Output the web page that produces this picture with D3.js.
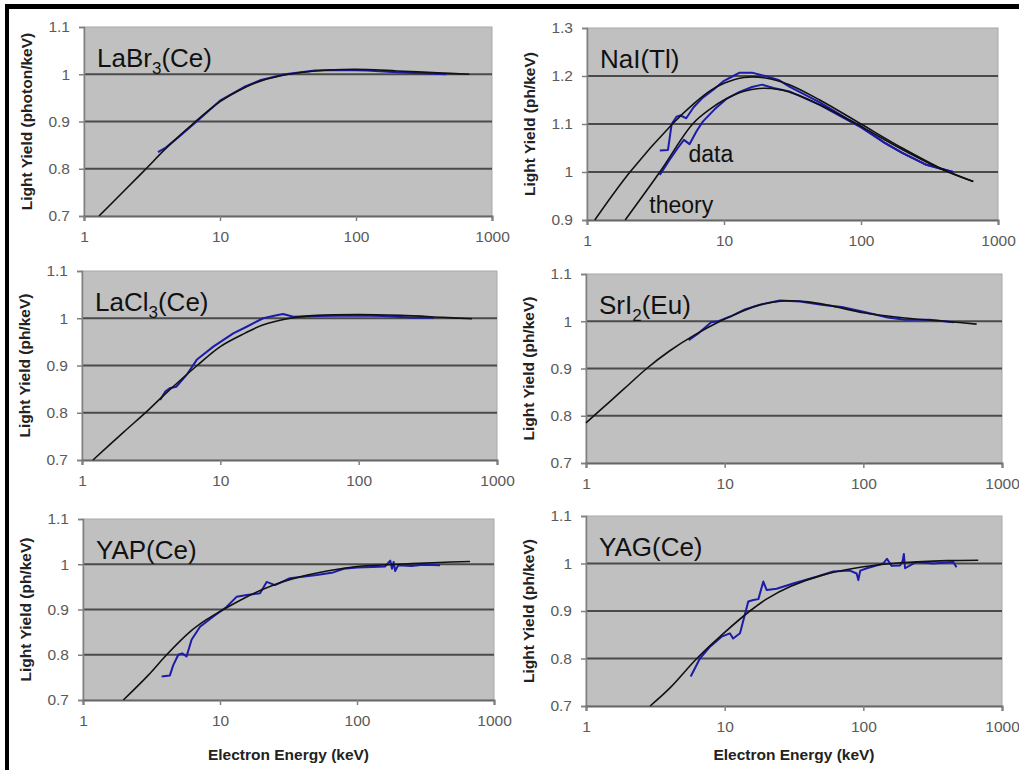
<!DOCTYPE html>
<html>
<head>
<meta charset="utf-8">
<script src="https://cdn.jsdelivr.net/npm/d3@7"></script>
<style>
  body { margin: 0; background: #fff; }
  svg { display: block; font-family: Arial, "Liberation Sans", sans-serif; }
</style>
</head>
<body>
<svg id="chart" width="1019" height="770"></svg>
<script>
// Electron energy (keV) vs relative light yield, measured (data) and model (theory)
const energyTicks = [1, 10, 100, 1000];
const yieldTicksLow = [0.7, 0.8, 0.9, 1, 1.1];
const yieldTicksNaI = [0.9, 1, 1.1, 1.2, 1.3];

const laBr3Theory = [[1.29,0.70],[2,0.755],[2.86,0.80],[4,0.843],[6.6,0.90],[10,0.942],[15,0.971],[20,0.986],[32,1.0],[50,1.007],[80,1.01],[120,1.01],[200,1.007],[400,1.003],[680,1.0]];
const laBr3Data = [[3.5,0.835],[4,0.845],[5,0.868],[7,0.904],[10,0.944],[15,0.973],[20,0.988],[30,1.0],[50,1.008],[80,1.009],[120,1.008],[200,1.004],[300,1.002],[460,1.0]];

const naiTheoryA = [[1.14,0.9],[2.06,1.0],[4.2,1.1],[6,1.142],[8,1.17],[10,1.185],[14,1.197],[20,1.196],[30,1.182],[50,1.15],[100,1.1],[200,1.05],[400,1.005],[660,0.98]];
const naiTheoryB = [[1.9,0.9],[3.4,1.0],[5.9,1.1],[8,1.132],[10,1.15],[14,1.168],[18,1.174],[25,1.172],[35,1.16],[50,1.14],[100,1.095],[200,1.047],[400,1.004],[660,0.98]];
const naiDataA = [[3.4,1.045],[3.9,1.046],[4.15,1.10],[4.5,1.115],[4.8,1.118],[5.3,1.112],[6.0,1.135],[7,1.155],[8.4,1.172],[10,1.19],[11.7,1.2],[13,1.207],[16,1.207],[20,1.2],[25,1.192],[30,1.178],[50,1.145],[80,1.11],[100,1.095],[150,1.06],[200,1.04],[300,1.015],[470,1.0]];
const naiDataB = [[3.4,0.994],[4.0,1.025],[4.6,1.05],[5.1,1.067],[5.6,1.058],[6.3,1.085],[7,1.105],[8.5,1.13],[10.5,1.153],[13,1.167],[16,1.177],[19,1.182],[23,1.175],[30,1.168],[50,1.14],[80,1.108],[100,1.093],[150,1.06],[200,1.04],[300,1.015],[470,1.0]];

const laCl3Theory = [[1.2,0.7],[2,0.759],[3,0.805],[4,0.84],[6.8,0.9],[10,0.94],[15,0.968],[20,0.985],[32,1.0],[50,1.006],[100,1.008],[200,1.006],[400,1.002],[660,0.999]];
const laCl3Data = [[3.67,0.827],[4.0,0.845],[4.3,0.852],[4.8,0.855],[5.7,0.88],[6.75,0.912],[8.9,0.94],[12.4,0.968],[15.5,0.982],[20.4,1.0],[25,1.006],[28.4,1.009],[33.7,1.003],[50,1.005],[100,1.006],[150,1.005],[250,1.001],[350,1.001]];

const srI2Theory = [[1,0.785],[1.5,0.831],[2,0.864],[2.74,0.9],[4,0.937],[6,0.97],[9.25,1.0],[12,1.015],[17,1.033],[26,1.043],[40,1.041],[60,1.032],[100,1.018],[200,1.007],[420,0.999],[656,0.994]];
const srI2Data = [[5.5,0.96],[6.5,0.975],[8,0.998],[9,1.0],[11,1.01],[14,1.025],[18,1.035],[25,1.044],[35,1.042],[50,1.035],[70,1.03],[100,1.02],[150,1.008],[200,1.003],[300,1.003],[450,0.998]];

const yapTheory = [[1.97,0.7],[3,0.755],[4.08,0.8],[6,0.85],[8,0.878],[10.6,0.9],[15,0.925],[20,0.943],[30,0.963],[50,0.98],[100,0.995],[200,1.0],[400,1.004],[668,1.006]];
const yapData = [[3.75,0.752],[4.3,0.754],[4.56,0.777],[4.96,0.8],[5.3,0.803],[5.7,0.796],[6.2,0.833],[7.15,0.862],[8.9,0.884],[11.2,0.906],[13.2,0.928],[15.7,0.932],[19.6,0.936],[21.9,0.961],[25.2,0.954],[32.4,0.969],[50.8,0.976],[67,0.982],[80,0.99],[100,0.993],[130,0.994],[160,0.995],[175,1.008],[180,0.99],[185,1.005],[190,0.985],[200,0.998],[250,0.996],[300,0.999],[404,0.998]];

const yagTheory = [[2.9,0.7],[4,0.737],[6.3,0.8],[10,0.855],[15.2,0.9],[20,0.925],[30,0.952],[50,0.975],[100,0.993],[200,1.002],[400,1.006],[674,1.007]];
const yagData = [[5.69,0.762],[6.63,0.8],[7.84,0.825],[9.5,0.846],[10.9,0.853],[11.5,0.842],[12.9,0.853],[14.8,0.92],[16.1,0.923],[17.5,0.925],[19,0.962],[20.1,0.944],[23.7,0.947],[31.2,0.958],[46,0.972],[60.7,0.983],[80,0.985],[89.5,0.979],[92,0.965],[95,0.985],[106,0.99],[139,1.0],[148,1.01],[160,0.995],[184,0.996],[192,1.005],[196,1.02],[200,0.99],[240,1.003],[319,1.0],[445,1.003],[470,0.992]];

// Panel layout: plot rectangles in page pixels
const panels = [
  { name: ["LaBr", "3", "(Ce)"], yLabel: "Light Yield (photon/keV)", L: 84,  R: 492,  T: 27,  B: 216, ticks: yieldTicksLow, theory: [laBr3Theory], data: [laBr3Data], xTitle: false },
  { name: ["NaI(Tl)"],           yLabel: "Light Yield (ph/keV)",     L: 587, R: 998,  T: 28,  B: 220, ticks: yieldTicksNaI, theory: [naiTheoryA, naiTheoryB], data: [naiDataA, naiDataB], xTitle: false },
  { name: ["LaCl", "3", "(Ce)"], yLabel: "Light Yield (ph/keV)",     L: 82,  R: 497,  T: 271, B: 460, ticks: yieldTicksLow, theory: [laCl3Theory], data: [laCl3Data], xTitle: false },
  { name: ["SrI", "2", "(Eu)"],  yLabel: "Light Yield (ph/keV)",     L: 586, R: 1002, T: 274, B: 463, ticks: yieldTicksLow, theory: [srI2Theory], data: [srI2Data], xTitle: false },
  { name: ["YAP(Ce)"],           yLabel: "Light Yield (ph/keV)",     L: 83,  R: 494,  T: 519, B: 700, ticks: yieldTicksLow, theory: [yapTheory], data: [yapData], xTitle: true },
  { name: ["YAG(Ce)"],           yLabel: "Light Yield (ph/keV)",     L: 586, R: 1002, T: 516, B: 706, ticks: yieldTicksLow, theory: [yagTheory], data: [yagData], xTitle: true }
];

const svg = d3.select("#chart");

// Black frame along the top and left edges
svg.append("rect").attr("x", 5).attr("y", 4).attr("width", 1014).attr("height", 5).attr("fill", "#000");
svg.append("rect").attr("x", 5).attr("y", 4).attr("width", 4).attr("height", 766).attr("fill", "#000");

panels.forEach(p => {
  const x = d3.scaleLog().domain([1, 1000]).range([p.L, p.R]);
  const y = d3.scaleLinear().domain([p.ticks[0], p.ticks[p.ticks.length - 1]]).range([p.B, p.T]);
  const g = svg.append("g");

  g.append("rect")
    .attr("x", p.L).attr("y", p.T)
    .attr("width", p.R - p.L).attr("height", p.B - p.T)
    .attr("fill", "#c0c0c0").attr("stroke", "#a8a8a8").attr("stroke-width", 1);

  // horizontal gridlines
  g.selectAll("line.grid")
    .data(p.ticks.slice(1, -1))
    .join("line")
    .attr("class", "grid")
    .attr("x1", p.L).attr("x2", p.R)
    .attr("y1", d => y(d)).attr("y2", d => y(d))
    .attr("stroke", "#4a4a4a").attr("stroke-width", 2);

  // y axis
  const ya = g.append("g").attr("transform", `translate(${p.L},0)`)
    .call(d3.axisLeft(y).tickValues(p.ticks).tickSize(5).tickPadding(9).tickFormat(d => String(d)));
  ya.select(".domain").attr("stroke", "#808080").attr("stroke-width", 1.5);
  ya.selectAll(".tick line").attr("stroke", "#808080").attr("stroke-width", 1.5);
  ya.selectAll(".tick text").attr("fill", "#5a5a5a").attr("font-size", 15.5).attr("font-family", "Arial, 'Liberation Sans', sans-serif");

  // x axis
  const xa = g.append("g").attr("transform", `translate(0,${p.B})`)
    .call(d3.axisBottom(x).tickValues(energyTicks).tickSize(5).tickPadding(10).tickFormat(d => String(d)));
  xa.select(".domain").attr("stroke", "#666").attr("stroke-width", 2);
  xa.selectAll(".tick line").attr("stroke", "#808080").attr("stroke-width", 1.5);
  xa.selectAll(".tick text").attr("fill", "#5a5a5a").attr("font-size", 15.5).attr("font-family", "Arial, 'Liberation Sans', sans-serif");

  const line = d3.line().x(d => x(d[0])).y(d => y(d[1]));
  const smooth = d3.line().x(d => x(d[0])).y(d => y(d[1])).curve(d3.curveCatmullRom.alpha(0.5));

  p.data.forEach(series => {
    g.append("path").datum(series).attr("d", line)
      .attr("fill", "none").attr("stroke", "#1c1ca8").attr("stroke-width", 2)
      .attr("stroke-linejoin", "round");
  });
  p.theory.forEach(series => {
    g.append("path").datum(series).attr("d", smooth)
      .attr("fill", "none").attr("stroke", "#111").attr("stroke-width", 1.6);
  });

  // panel title with optional subscript
  const t = g.append("text").attr("x", p.L + 13).attr("y", p.T + 40)
    .attr("font-size", 26).attr("fill", "#111");
  t.append("tspan").text(p.name[0]);
  if (p.name.length > 1) {
    t.append("tspan").attr("font-size", 17).attr("dy", 7).text(p.name[1]);
    t.append("tspan").attr("dy", -7).text(p.name[2]);
  }

  // y axis title
  const cy = (p.T + p.B) / 2;
  const cx = p.L - 57;
  g.append("text")
    .attr("transform", `translate(${cx},${cy}) rotate(-90)`)
    .attr("text-anchor", "middle").attr("dy", "0.35em")
    .attr("font-size", 15.5).attr("font-weight", "bold").attr("fill", "#222")
    .text(p.yLabel);

  if (p.xTitle) {
    g.append("text")
      .attr("x", (p.L + p.R) / 2).attr("y", 760)
      .attr("text-anchor", "middle")
      .attr("font-size", 15.5).attr("font-weight", "bold").attr("fill", "#222")
      .text("Electron Energy (keV)");
  }
});

// curve annotations in the NaI(Tl) panel
{
  const p = panels[1];
  const x = d3.scaleLog().domain([1, 1000]).range([p.L, p.R]);
  const y = d3.scaleLinear().domain([0.9, 1.3]).range([p.B, p.T]);
  svg.append("text").attr("x", x(5.5)).attr("y", y(1.045) + 12).attr("font-size", 23).attr("fill", "#111").text("data");
  svg.append("text").attr("x", x(2.85)).attr("y", y(0.915)).attr("font-size", 23).attr("fill", "#111").text("theory");
}
</script>
</body>
</html>
